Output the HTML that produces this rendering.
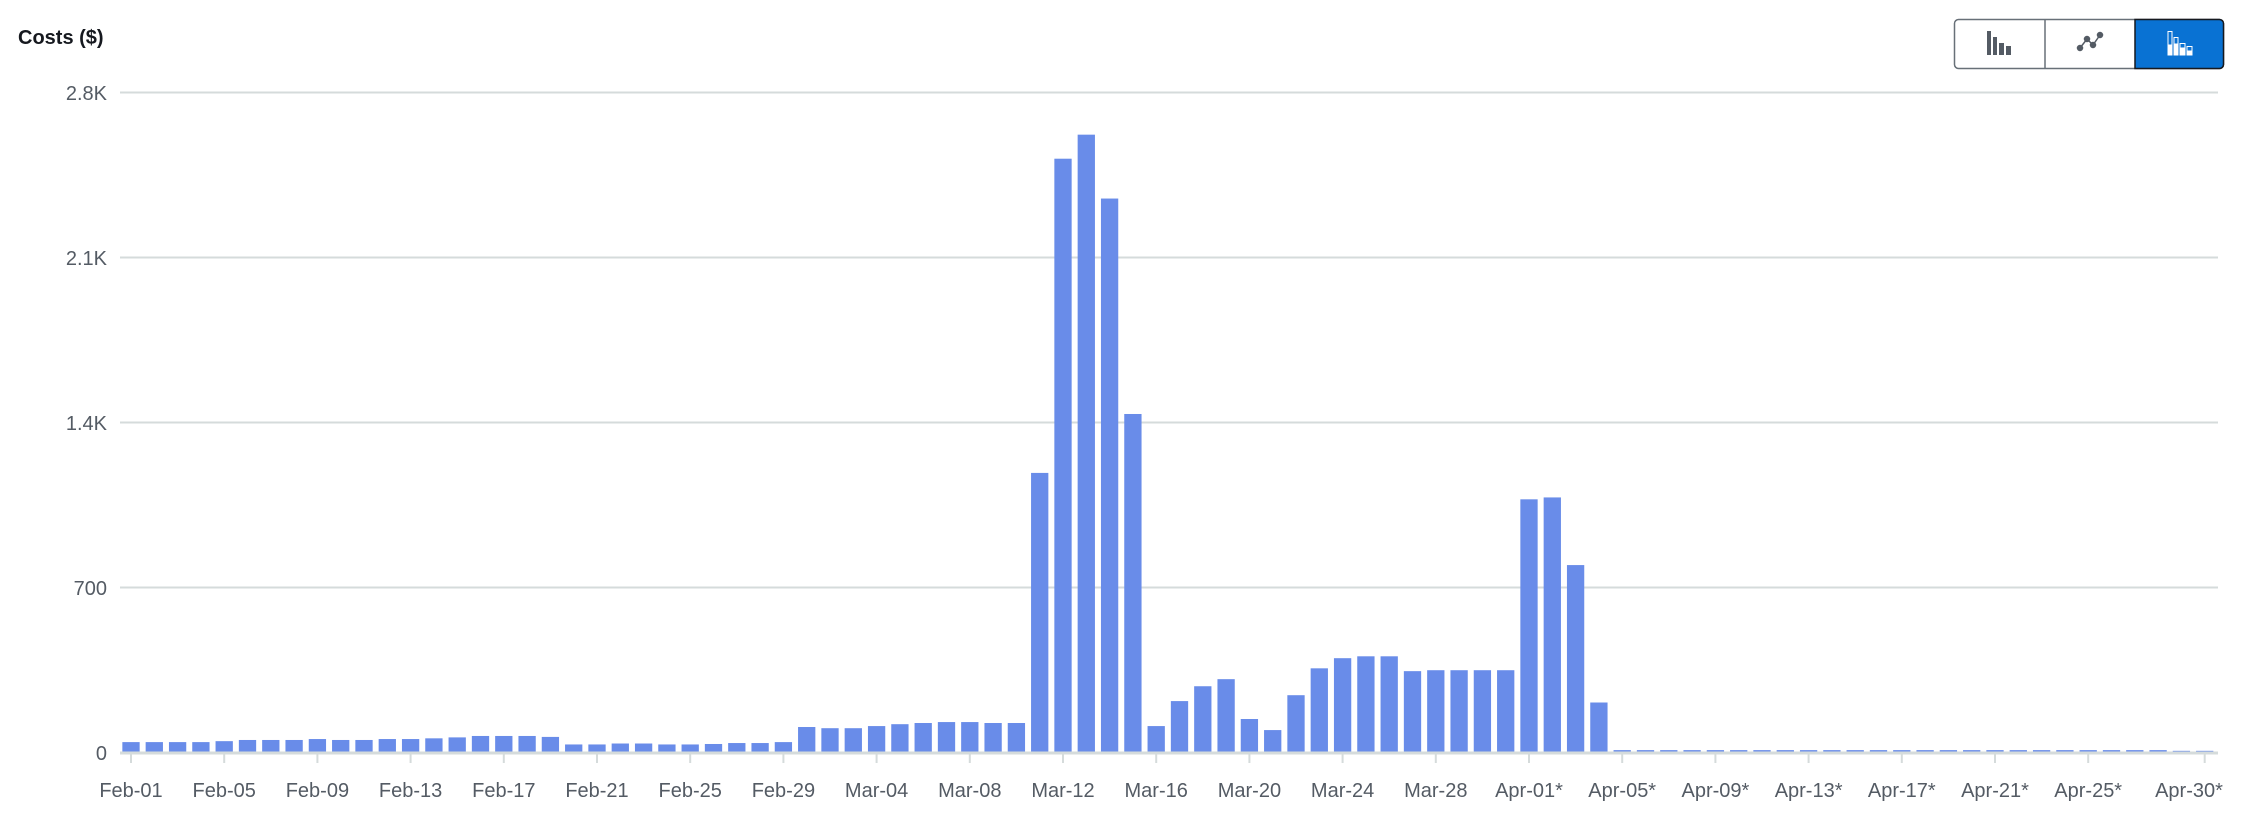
<!DOCTYPE html>
<html><head><meta charset="utf-8"><style>
html,body{margin:0;padding:0;background:#fff;width:2254px;height:828px;overflow:hidden}
svg{display:block}
text{font-family:"Liberation Sans",sans-serif}
</style></head><body>
<svg id="s" width="2254" height="828" xmlns="http://www.w3.org/2000/svg">
<text x="18" y="44" font-size="20" font-weight="bold" fill="#16191f">Costs ($)</text>
<g stroke="#d5dbdb" stroke-width="2">
<line x1="120" y1="92.5" x2="2218" y2="92.5"/>
<line x1="120" y1="257.5" x2="2218" y2="257.5"/>
<line x1="120" y1="422.5" x2="2218" y2="422.5"/>
<line x1="120" y1="587.5" x2="2218" y2="587.5"/>
</g>
<g font-size="20" fill="#545b64" text-anchor="end">
<text x="107" y="100">2.8K</text>
<text x="107" y="265">2.1K</text>
<text x="107" y="430">1.4K</text>
<text x="107" y="595">700</text>
<text x="107" y="760">0</text>
</g>
<g id="bars" fill="#698ce9"></g>
<line x1="120" y1="753" x2="2218" y2="753" stroke="#d5dbdb" stroke-width="3"/>
<g id="ticks" stroke="#d5dbdb" stroke-width="2"></g>
<g id="labels" font-size="20" fill="#545b64" text-anchor="middle"></g>
<!-- buttons -->
<rect x="1954.5" y="19.5" width="269" height="49" rx="4" fill="#fff" stroke="#687078" stroke-width="1.5"/>
<path d="M2135 19.5 H2219.5 a4 4 0 0 1 4 4 V64.5 a4 4 0 0 1 -4 4 H2135 Z" fill="#0972d3" stroke="#16191f" stroke-width="1.5"/>
<line x1="2045" y1="19.5" x2="2045" y2="68.5" stroke="#687078" stroke-width="1.5"/>
<g fill="#545b64">
<rect x="1987" y="31" width="4" height="24"/><rect x="1993" y="37" width="4" height="18"/><rect x="1999" y="43" width="5" height="12"/><rect x="2006" y="46" width="5" height="9"/>
</g>
<g stroke="#545b64" stroke-width="1.5" fill="#545b64">
<polyline points="2080,48 2087,39 2093,45 2100,35" fill="none"/>
<circle cx="2080" cy="48" r="2.5"/><circle cx="2087" cy="39" r="2.5"/><circle cx="2093" cy="45" r="2.5"/><circle cx="2100" cy="35" r="2.5"/>
</g>
<g fill="#fff" stroke="#fff" stroke-width="1">
<rect x="2168" y="31.5" width="4" height="23" fill="none"/><rect x="2168" y="45" width="4" height="10"/>
<rect x="2174" y="37.5" width="4" height="17" fill="none"/><rect x="2174" y="44" width="4" height="11"/>
<rect x="2180" y="43.5" width="5" height="11" fill="none"/><rect x="2180" y="48" width="5" height="7"/>
<rect x="2187" y="46.5" width="5" height="8" fill="none"/><rect x="2187" y="51" width="5" height="4"/>
</g>
</svg>
<script>
var v=[42,42,42,42,46,51,51,51,55,51,51,55,55,58,62,68,68,68,64,32,32,36,36,32,32,34,38,38,42,
106,101,101,110,118,123,127,127,123,123,1184,2517,2619,2348,1434,110,216,279,309,140,93,241,355,398,406,406,343,347,347,347,347,
1072,1080,793,210];
while(v.length<88)v.push(8);v.push(5);v.push(5);
var ns="http://www.w3.org/2000/svg",b=document.getElementById("bars"),t=document.getElementById("ticks"),l=document.getElementById("labels");
function el(n,a,p){var e=document.createElementNS(ns,n);for(var k in a)e.setAttribute(k,a[k]);p.appendChild(e);return e;}
for(var i=0;i<90;i++){var cx=131+23.3*i,h=v[i]*165/700;el("rect",{x:cx-8.65,y:752-h,width:17.3,height:h},b);}
var lab=["Feb-01","Feb-05","Feb-09","Feb-13","Feb-17","Feb-21","Feb-25","Feb-29","Mar-04","Mar-08","Mar-12","Mar-16","Mar-20","Mar-24","Mar-28","Apr-01*","Apr-05*","Apr-09*","Apr-13*","Apr-17*","Apr-21*","Apr-25*"];
for(var j=0;j<lab.length;j++){var x=131+23.3*4*j;el("line",{x1:x,y1:754,x2:x,y2:763},t);el("text",{x:x,y:797},l).textContent=lab[j];}
var xe=131+23.3*89;el("line",{x1:xe,y1:754,x2:xe,y2:763},t);el("text",{x:2189,y:797},l).textContent="Apr-30*";
</script>
</body></html>
